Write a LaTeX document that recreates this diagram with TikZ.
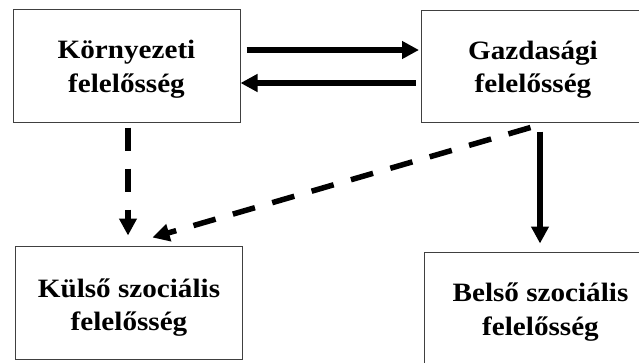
\documentclass[tikz,border=0pt]{standalone}
\usepackage{fontspec}
\setmainfont{Liberation Serif}[FakeStretch=1.1]
\usetikzlibrary{arrows.meta,calc}
\tikzset{
  box/.style={draw=black!75, line width=1pt, minimum width=227pt, minimum height=113pt, inner sep=0pt},
  txt/.style={align=center, font=\fontsize{26.5}{33.5}\selectfont\bfseries, inner sep=0pt},
  arr/.style={line width=5.5pt, -{Triangle[length=17pt,width=17pt]}},
  dsh/.style={arr, dash pattern=on 23pt off 18pt}
}
\begin{document}
\begin{tikzpicture}[x=1pt,y=-1pt]
\useasboundingbox (0,0) rectangle (639,362);
\clip (0,0) rectangle (639,362);
\node[box] (k) at (126.5,65.5) {};
\node[box, minimum height=112pt] (g) at (534.5,66) {};
\node[box] (ku) at (128.5,302.5) {};
\node[box] (b) at (537.5,308.5) {};
\node[txt] (kt) at ($(k.center)+(0,3.5)$) {Környezeti\\felelősség};
\node[txt] (gt) at ($(g.center)+(-1.5,3.5)$) {Gazdasági\\felelősség};
\node[txt] (kut) at ($(ku.center)+(0.5,5)$) {Külső szociális\\felelősség};
\node[txt] (bt) at ($(b.center)+(3,3.5)$) {Belső szociális\\felelősség};
\coordinate (r1) at (0,50);
\coordinate (r2) at (0,83);
\coordinate (cv) at (128,0);
\coordinate (cs) at (540,0);
\draw[arr, shorten <=6pt, shorten >=1.5pt] (k.east |- r1) -- (g.west |- r1);
\draw[arr, shorten <=5pt] (g.west |- r2) -- (k.east |- r2);
\draw[dsh, shorten <=5pt, shorten >=10pt] (k.south -| cv) -- (ku.north -| cv);
\draw[dsh] ($(g.south west)+(110,5)$) -- ($(ku.north west)+(138,-8)$);
\draw[arr, shorten <=9pt, shorten >=8pt] (g.south -| cs) -- (b.north -| cs);
\end{tikzpicture}
\end{document}
